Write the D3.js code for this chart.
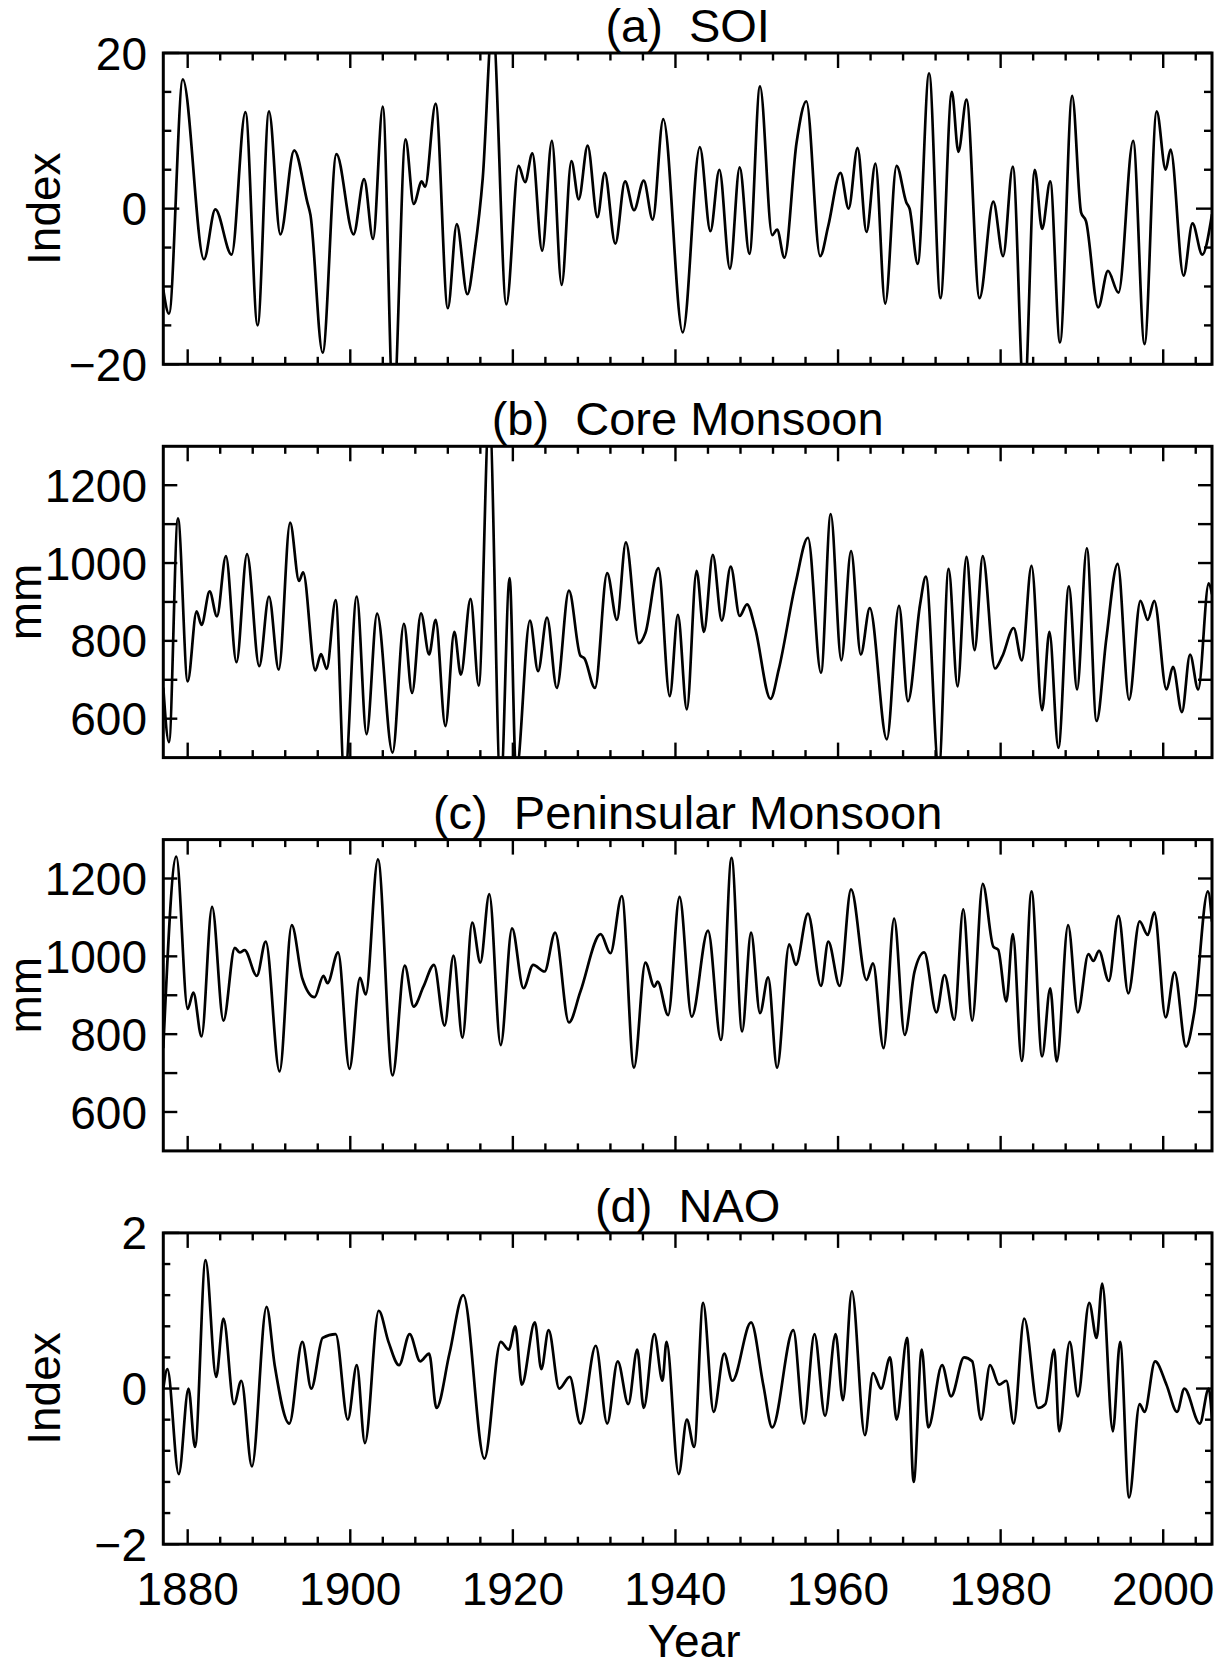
<!DOCTYPE html>
<html><head><meta charset="utf-8">
<script src="https://cdn.jsdelivr.net/npm/d3@7"></script>
<style>
html,body{margin:0;padding:0;background:#fff;}
svg{display:block;}
text{font-family:"Liberation Sans", Arial, Helvetica, sans-serif; fill:#000;}
</style></head><body>
<svg id="chart" width="1225" height="1669"></svg>
<script>
// ---------- data (turning points: [year, value]) ----------
const soi = [[1877.0,-10.4],[1877.7,-13.5],[1879.4,16.6],[1882.0,-6.5],[1883.4,-0.1],[1885.4,-5.9],[1887.1,12.4],[1888.6,-15.0],[1890.0,12.5],[1891.4,-3.3],[1893.1,7.5],[1894.7,0.9],[1895.1,-0.8],[1896.6,-18.5],[1898.3,7.0],[1900.4,-3.3],[1901.7,3.8],[1902.8,-3.9],[1904.0,13.1],[1905.3,-26],[1906.8,8.9],[1907.8,0.6],[1908.8,3.5],[1909.2,2.8],[1910.5,13.5],[1912.0,-12.8],[1913.1,-2.0],[1914.4,-11.0],[1915.3,-5.5],[1916.3,4.0],[1917.5,24],[1919.2,-12.3],[1920.7,5.5],[1921.5,3.4],[1922.4,7.1],[1923.6,-5.4],[1924.8,8.7],[1926.0,-9.8],[1927.2,6.1],[1928.1,1.2],[1929.2,8.1],[1930.4,-1.1],[1931.3,4.6],[1932.6,-4.5],[1933.8,3.5],[1934.9,-0.2],[1936.1,3.6],[1937.2,-1.4],[1938.5,11.5],[1940.9,-15.9],[1943.0,7.9],[1944.3,-2.9],[1945.4,5.0],[1946.7,-7.7],[1947.9,5.3],[1949.1,-5.8],[1950.4,15.7],[1951.9,-3.4],[1952.5,-2.7],[1953.4,-6.3],[1954.9,8.5],[1956.1,13.8],[1957.8,-6.1],[1958.8,-2.2],[1960.3,4.6],[1961.3,0.0],[1962.4,7.8],[1963.5,-3.0],[1964.6,5.8],[1965.8,-12.2],[1967.2,5.5],[1968.4,0.8],[1968.8,0.0],[1969.8,-7.1],[1971.2,17.4],[1972.6,-11.5],[1974.0,15.0],[1974.8,7.3],[1975.8,14.0],[1977.4,-11.5],[1979.1,0.9],[1980.3,-6.1],[1981.5,5.4],[1982.9,-25],[1984.2,5.0],[1985.1,-2.6],[1986.1,3.5],[1987.3,-17.2],[1988.8,14.5],[1989.9,-0.5],[1990.5,-1.6],[1992.0,-12.7],[1993.2,-8.0],[1994.5,-10.8],[1996.3,8.7],[1997.7,-17.4],[1999.2,12.5],[2000.3,5.0],[2000.9,7.6],[2002.5,-8.6],[2003.6,-1.9],[2004.8,-5.9],[2006.0,-0.7]];

const coreMonsoon = [[1877.0,680],[1877.7,540],[1878.8,1115],[1880.0,696],[1881.1,876],[1881.7,841],[1882.7,927],[1883.6,863],[1884.7,1018],[1886.0,745],[1887.3,1023],[1888.8,735],[1890.0,914],[1891.2,726],[1892.6,1104],[1893.7,954],[1894.2,976],[1895.7,724],[1896.4,766],[1897.1,728],[1898.2,905],[1899.3,440],[1900.8,914],[1902.0,560],[1903.3,870],[1905.2,513],[1906.6,844],[1907.6,666],[1908.7,871],[1909.7,765],[1910.5,854],[1911.7,581],[1912.8,823],[1913.6,713],[1914.8,908],[1915.8,685],[1917.1,1390],[1918.5,420],[1919.6,961],[1920.4,460],[1922.1,852],[1923.1,722],[1924.2,860],[1925.4,679],[1926.9,929],[1928.3,762],[1928.8,755],[1930.1,679],[1931.6,974],[1932.8,854],[1933.9,1053],[1935.5,794],[1936.3,820],[1937.9,987],[1939.3,658],[1940.3,867],[1941.4,624],[1942.6,980],[1943.5,823],[1944.6,1021],[1945.7,852],[1946.8,991],[1947.9,864],[1948.8,894],[1949.8,833],[1951.7,651],[1952.7,726],[1954.8,950],[1956.3,1065],[1957.9,718],[1959.1,1126],[1960.4,750],[1961.6,1031],[1962.8,765],[1963.9,884],[1966.0,547],[1967.5,890],[1968.6,645],[1970.1,895],[1970.8,965],[1972.4,470],[1973.6,985],[1974.7,683],[1975.8,1016],[1976.8,776],[1977.8,1018],[1979.3,729],[1980.2,760],[1981.6,833],[1982.6,750],[1983.8,993],[1985.1,622],[1986.0,823],[1987.1,525],[1988.4,940],[1989.4,675],[1990.6,1038],[1991.8,594],[1993.0,805],[1994.4,998],[1995.8,649],[1997.2,903],[1998.1,854],[1998.9,903],[2000.4,675],[2001.2,733],[2002.3,617],[2003.3,765],[2004.3,675],[2005.6,948],[2006.0,920]];

const peninsularMonsoon = [[1877.0,764],[1878.6,1256],[1880.0,865],[1880.7,907],[1881.7,794],[1883.0,1127],[1884.4,835],[1885.8,1022],[1886.4,1010],[1887.0,1016],[1888.5,950],[1889.6,1038],[1891.3,704],[1892.8,1080],[1894.1,943],[1895.6,895],[1896.7,950],[1897.2,931],[1898.5,1010],[1899.9,711],[1901.2,945],[1901.9,902],[1903.4,1249],[1905.2,694],[1906.7,976],[1907.8,871],[1909.0,922],[1910.3,978],[1911.6,822],[1912.7,1002],[1913.8,791],[1915.0,1087],[1916.0,984],[1917.1,1160],[1918.5,772],[1919.9,1072],[1921.3,918],[1922.5,978],[1923.9,961],[1925.2,1061],[1926.9,830],[1928.3,909],[1930.8,1057],[1932.0,1008],[1933.4,1155],[1934.9,714],[1936.3,984],[1937.4,922],[1937.8,935],[1939.1,849],[1940.5,1153],[1942.0,845],[1944.0,1066],[1945.6,785],[1946.9,1253],[1948.2,807],[1949.3,1061],[1950.4,854],[1951.4,946],[1952.5,714],[1954.0,1031],[1954.8,978],[1956.3,1110],[1957.9,924],[1958.8,1038],[1960.2,924],[1961.6,1172],[1963.5,939],[1964.3,982],[1965.6,764],[1966.9,1097],[1968.2,798],[1969.4,960],[1970.6,1010],[1972.1,856],[1973.1,952],[1974.3,837],[1975.4,1121],[1976.5,835],[1977.8,1186],[1979.1,1025],[1979.7,1017],[1980.7,884],[1981.5,1057],[1982.6,731],[1983.8,1167],[1985.1,743],[1986.1,918],[1986.9,730],[1988.3,1080],[1989.5,856],[1990.8,1006],[1991.4,988],[1992.1,1014],[1993.3,937],[1994.5,1104],[1995.7,905],[1997.1,1090],[1998.1,1055],[1998.9,1113],[2000.3,843],[2001.4,959],[2002.8,768],[2003.8,854],[2005.5,1167],[2006.0,1089]];

const nao = [[1877.0,0.0],[1877.5,0.25],[1878.9,-1.1],[1880.1,0.0],[1880.9,-0.75],[1882.2,1.65],[1883.5,0.15],[1884.4,0.9],[1885.7,-0.2],[1886.6,0.1],[1887.9,-1.0],[1889.7,1.05],[1890.7,0.3],[1892.5,-0.45],[1894.1,0.6],[1895.2,0.0],[1896.6,0.65],[1898.2,0.7],[1899.7,-0.4],[1900.8,0.3],[1901.8,-0.7],[1903.5,1.0],[1904.7,0.6],[1906.0,0.3],[1907.3,0.7],[1908.6,0.35],[1909.7,0.45],[1910.6,-0.25],[1912.2,0.45],[1913.9,1.2],[1916.5,-0.9],[1918.5,0.6],[1919.5,0.5],[1920.3,0.8],[1921.1,0.05],[1922.7,0.85],[1923.5,0.25],[1924.4,0.75],[1925.7,0.0],[1927.0,0.15],[1928.3,-0.45],[1930.2,0.55],[1931.6,-0.45],[1932.9,0.35],[1934.2,-0.2],[1935.3,0.5],[1936.1,-0.25],[1937.4,0.7],[1938.4,0.1],[1938.9,0.6],[1940.4,-1.1],[1941.4,-0.4],[1942.3,-0.75],[1943.4,1.1],[1944.7,-0.3],[1946.0,0.45],[1947.0,0.1],[1949.3,0.85],[1950.8,0.05],[1951.9,-0.5],[1954.5,0.75],[1955.8,-0.45],[1957.1,0.7],[1958.4,-0.35],[1959.7,0.7],[1960.6,-0.15],[1961.7,1.25],[1963.3,-0.6],[1964.3,0.2],[1965.3,0.0],[1966.4,0.4],[1967.2,-0.4],[1968.5,0.65],[1969.3,-1.2],[1970.3,0.5],[1971.1,-0.5],[1972.8,0.3],[1973.9,-0.1],[1975.5,0.4],[1976.5,0.35],[1977.6,-0.4],[1978.7,0.3],[1979.8,0.05],[1980.7,0.1],[1981.6,-0.45],[1982.9,0.9],[1984.6,-0.25],[1985.5,-0.2],[1986.6,0.5],[1987.2,-0.55],[1988.5,0.6],[1989.5,-0.1],[1990.9,1.1],[1991.8,0.65],[1992.5,1.35],[1993.8,-0.55],[1994.7,0.6],[1995.8,-1.4],[1997.1,-0.2],[1997.7,-0.3],[1999.0,0.35],[2000.4,0.05],[2001.7,-0.3],[2002.6,0.0],[2004.5,-0.45],[2005.6,0.0],[2006.0,-0.4]];

// ---------- axes definitions ----------
const yearDomain = [1877, 2006];
const xMajorTicks = [1880, 1900, 1920, 1940, 1960, 1980, 2000];
const xMinorTicks = [1884,1888,1892,1896,1904,1908,1912,1916,1924,1928,1932,1936,1944,1948,1952,1956,1964,1968,1972,1976,1984,1988,1992,1996,2004];

const soiDomain = [-20, 20], soiMajor = [-20, 0, 20], soiMinor = [-15,-10,-5,5,10,15];
const mmDomain = [500, 1300], mmMajor = [600, 800, 1000, 1200], mmMinor = [700, 900, 1100];
const naoDomain = [-2, 2], naoMajor = [-2, 0, 2], naoMinor = [-1.6,-1.2,-0.8,-0.4,0.4,0.8,1.2,1.6];

const panelTitles = ["(a)  SOI", "(b)  Core Monsoon", "(c)  Peninsular Monsoon", "(d)  NAO"];
const yTitles = ["Index", "mm", "mm", "Index"];

// ---------- layout ----------
const svg = d3.select("#chart");
const L = 163.3, R = 1212, H = 311.3;
const tops = [53, 446.3, 839.6, 1232.9];
const fontSize = 46;

const x = d3.scaleLinear().domain(yearDomain).range([L, R]);

const panels = [
  {data: soi, domain: soiDomain, major: soiMajor, minor: soiMinor, yMaj: 16, yMin: 8, titleX: 60},
  {data: coreMonsoon, domain: mmDomain, major: mmMajor, minor: mmMinor, yMaj: 14, yMin: 14, titleX: 41},
  {data: peninsularMonsoon, domain: mmDomain, major: mmMajor, minor: mmMinor, yMaj: 14, yMin: 14, titleX: 41},
  {data: nao, domain: naoDomain, major: naoMajor, minor: naoMinor, yMaj: 16, yMin: 7, titleX: 60}
];

const fmt = v => (v < 0 ? "\u2212" + Math.abs(v) : String(v));

panels.forEach((p, i) => {
  const top = tops[i], bot = top + H;
  const y = d3.scaleLinear().domain(p.domain).range([bot, top]);
  const g = svg.append("g");

  const cid = "clip" + i;
  svg.append("clipPath").attr("id", cid).append("rect")
    .attr("x", L).attr("y", top).attr("width", R - L).attr("height", H);

  const line = d3.line().x(d => x(d[0])).y(d => y(d[1])).curve(d3.curveMonotoneX);
  g.append("path").datum(p.data)
    .attr("clip-path", `url(#${cid})`)
    .attr("d", line).attr("fill", "none").attr("stroke", "#000")
    .attr("stroke-width", 2.7).attr("stroke-linejoin", "round");

  const tk = g.append("g").attr("stroke", "#000").attr("stroke-width", 2.4);
  xMajorTicks.forEach(t => {
    tk.append("line").attr("x1", x(t)).attr("x2", x(t)).attr("y1", bot).attr("y2", bot - 15);
    tk.append("line").attr("x1", x(t)).attr("x2", x(t)).attr("y1", top).attr("y2", top + 15);
  });
  xMinorTicks.forEach(t => {
    tk.append("line").attr("x1", x(t)).attr("x2", x(t)).attr("y1", bot).attr("y2", bot - 7.5);
    tk.append("line").attr("x1", x(t)).attr("x2", x(t)).attr("y1", top).attr("y2", top + 7.5);
  });
  p.major.forEach(t => {
    tk.append("line").attr("x1", L).attr("x2", L + p.yMaj).attr("y1", y(t)).attr("y2", y(t));
    tk.append("line").attr("x1", R).attr("x2", R - p.yMaj).attr("y1", y(t)).attr("y2", y(t));
  });
  p.minor.forEach(t => {
    tk.append("line").attr("x1", L).attr("x2", L + p.yMin).attr("y1", y(t)).attr("y2", y(t));
    tk.append("line").attr("x1", R).attr("x2", R - p.yMin).attr("y1", y(t)).attr("y2", y(t));
  });

  g.append("rect").attr("x", L).attr("y", top).attr("width", R - L).attr("height", H)
    .attr("fill", "none").attr("stroke", "#000").attr("stroke-width", 3);

  p.major.forEach(t => {
    g.append("text").attr("x", 147).attr("y", y(t)).attr("dy", "0.36em")
      .attr("text-anchor", "end").attr("font-size", fontSize).text(fmt(t));
  });

  g.append("text")
    .attr("transform", `translate(${p.titleX},${(top + bot) / 2}) rotate(-90)`)
    .attr("text-anchor", "middle").attr("font-size", fontSize).text(yTitles[i]);

  g.append("text").attr("x", (L + R) / 2).attr("y", top - 11)
    .attr("text-anchor", "middle").attr("font-size", 47)
    .style("white-space", "pre").text(panelTitles[i]);

  if (i === panels.length - 1) {
    xMajorTicks.forEach(t => {
      g.append("text").attr("x", x(t)).attr("y", 1605)
        .attr("text-anchor", "middle").attr("font-size", fontSize).text(t);
    });
    g.append("text").attr("x", 694).attr("y", 1657)
      .attr("text-anchor", "middle").attr("font-size", fontSize).text("Year");
  }
});
</script>
</body></html>
